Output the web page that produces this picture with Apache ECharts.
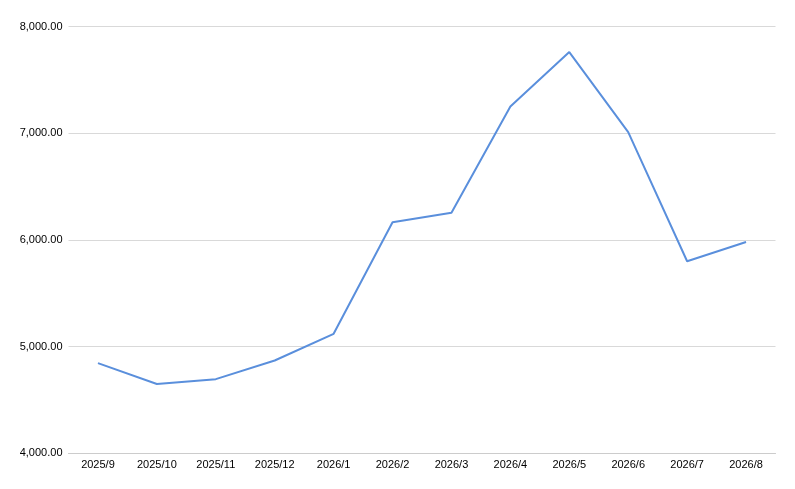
<!DOCTYPE html>
<html>
<head>
<meta charset="utf-8">
<script src="https://cdn.jsdelivr.net/npm/echarts@6/dist/echarts.min.js"></script>
<style>html,body{margin:0;padding:0;background:#fff}#c{width:795px;height:489px}</style>
</head>
<body>
<div id="c"></div>
<script>
const categories = ['2025/9','2025/10','2025/11','2025/12','2026/1','2026/2','2026/3','2026/4','2026/5','2026/6','2026/7','2026/8'];
const values = [4845, 4650, 4695, 4870, 5120, 6165, 6255, 7250, 7760, 7010, 5800, 5980];
const yMin = 4000, yMax = 8000, yInterval = 1000;

const chart = echarts.init(document.getElementById('c'), null, {renderer: 'canvas'});
chart.setOption({
  animation: false,
  grid: {left: 68.5, right: 19.5, top: 26.5, bottom: 35.7, containLabel: false},
  xAxis: {
    type: 'category',
    data: categories,
    boundaryGap: true,
    axisLine: {show: true, lineStyle: {color: '#cccccc', width: 1}},
    axisTick: {show: false},
    axisLabel: {color: '#000000', fontFamily: 'Liberation Sans, Arial, sans-serif', fontSize: 11, margin: 6}
  },
  yAxis: {
    type: 'value',
    min: yMin, max: yMax, interval: yInterval,
    axisLine: {show: false},
    axisTick: {show: false},
    splitLine: {lineStyle: {color: '#d9d9d9', width: 1}},
    axisLabel: {
      color: '#000000', fontFamily: 'Liberation Sans, Arial, sans-serif', fontSize: 11, margin: 6,
      formatter: v => v.toLocaleString('en-US', {minimumFractionDigits: 2, maximumFractionDigits: 2})
    }
  },
  series: [{
    type: 'line',
    data: values,
    symbol: 'none',
    lineStyle: {color: '#5a8fdc', width: 2},
    itemStyle: {color: '#5a8fdc'}
  }]
});
</script>
</body>
</html>
